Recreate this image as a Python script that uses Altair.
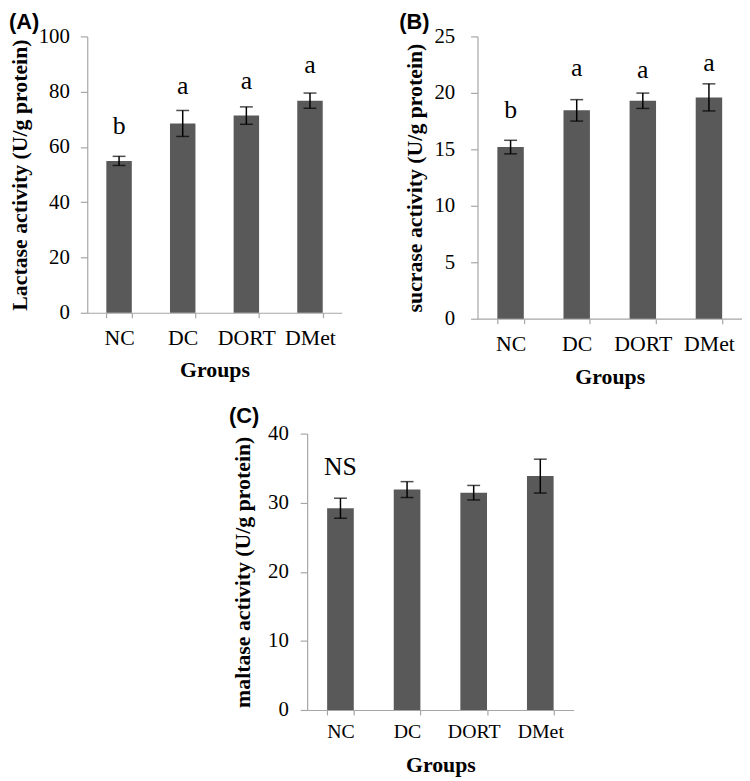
import altair as alt
import pandas as pd

groups = ["NC", "DC", "DORT", "DMet"]

# Panel A: lactase
lactase_mean = [54.95, 68.5, 71.35, 76.75]
lactase_sem = [1.65, 4.7, 3.15, 2.75]
lactase_letters = ["b", "a", "a", "a"]
lactase_letter_y = [64.7, 79.2, 80.8, 86.8]

# Panel B: sucrase
sucrase_mean = [15.2, 18.45, 19.3, 19.6]
sucrase_sem = [0.6, 0.95, 0.68, 1.2]
sucrase_letters = ["b", "a", "a", "a"]
sucrase_letter_y = [17.8, 21.5, 21.3, 21.9]

# Panel C: maltase
maltase_mean = [29.2, 31.9, 31.45, 33.85]
maltase_sem = [1.45, 1.15, 1.05, 2.45]
maltase_letters = ["NS", "", "", ""]
maltase_letter_y = [34.0, 0, 0, 0]

panel_labels = ["(A)", "(B)", "(C)"]
y_titles = ["Lactase activity (U/g protein)", "sucrase activity (U/g protein)",
            "maltase activity (U/g protein)"]
x_title = "Groups"

SERIF = "Liberation Serif"
SANS = "Liberation Sans"
AXIS_GREY = "#a6a6a6"


def panel(means, sems, letters, letter_y, plabel, ytitle, ydomain, ystep,
          width, height, ylab_pad, ytitle_pad, xlab_pad, xtitle_pad, xlab_size):
    df = pd.DataFrame({
        "group": groups,
        "mean": means,
        "lo": [m - s for m, s in zip(means, sems)],
        "hi": [m + s for m, s in zip(means, sems)],
        "letter": letters,
        "ly": letter_y,
    })
    yvals = list(range(ydomain[0], ydomain[1] + 1, ystep))
    xsc = alt.Scale(paddingInner=0.6, paddingOuter=0.3)
    ysc = alt.Scale(domain=ydomain, nice=False)
    xax = alt.Axis(title=x_title, labelAngle=0, tickBand="extent",
                   tickSize=5, labelPadding=xlab_pad, titlePadding=xtitle_pad,
                   labelFontSize=xlab_size, labelOverlap=False)
    yax = alt.Axis(title=ytitle, values=yvals, tickSize=7, grid=False,
                   labelPadding=ylab_pad, titlePadding=ytitle_pad)
    X = alt.X("group:N", sort=groups, scale=xsc, axis=xax)

    def Y(f):
        return alt.Y(f, scale=ysc, axis=yax)

    base = alt.Chart(df)
    bars = base.mark_bar(color="#595959").encode(x=X, y=Y("mean:Q"))
    rules = base.mark_rule(color="black", strokeWidth=1.5).encode(
        x=X, y=Y("lo:Q"), y2="hi:Q")
    cap_lo = base.mark_tick(color="black", size=13, thickness=1.5).encode(
        x=X, y=Y("lo:Q"))
    cap_hi = base.mark_tick(color="black", size=13, thickness=1.5).encode(
        x=X, y=Y("hi:Q"))
    txt = base.transform_filter(alt.datum.letter != "").mark_text(
        font=SERIF, fontSize=26, baseline="alphabetic", color="black").encode(
        x=X, y=Y("ly:Q"), text="letter:N")
    lab = alt.Chart(pd.DataFrame({"p": [plabel]})).mark_text(
        font=SANS, fontSize=22, fontWeight="bold", align="left", baseline="top",
        color="black").encode(x=alt.value(-79), y=alt.value(-24 if plabel != "(C)" else -28),
                              text="p:N")
    return alt.layer(bars, rules, cap_lo, cap_hi, txt, lab).properties(
        width=width, height=height)


pA = panel(lactase_mean, lactase_sem, lactase_letters, lactase_letter_y, panel_labels[0],
           y_titles[0], [0, 100], 20, 257, 279, 11, 7, 10, 11, 22)
pB = panel(sucrase_mean, sucrase_sem, sucrase_letters, sucrase_letter_y, panel_labels[1],
           y_titles[1], [0, 25], 5, 267, 285, 16, 8, 10, 12, 22)
pC = panel(maltase_mean, maltase_sem, maltase_letters, maltase_letter_y, panel_labels[2],
           y_titles[2], [0, 40], 10, 269, 279, 12, 13, 7, 13, 20)

spacer = alt.Chart(pd.DataFrame({"s": [0]})).mark_point(opacity=0).encode(
    x=alt.value(0), y=alt.value(0)).properties(width=1, height=1)

row1 = alt.hconcat(pA, pB, spacing=137, bounds="flush")
row2 = alt.hconcat(spacer, pC, spacing=221, bounds="flush")
# nested rows report zero height under flush bounds, so spacing = row1 height + gap
chart = alt.vconcat(row1, row2, spacing=401, bounds="flush").properties(
    padding=0
).configure_view(stroke=None).configure_axis(
    domainColor=AXIS_GREY, tickColor=AXIS_GREY, domainWidth=1.2, tickWidth=1.2,
    labelFont=SERIF, labelFontSize=21, labelColor="black",
    titleFont=SERIF, titleFontSize=22, titleFontWeight="bold", titleColor="black",
)

chart.save("out.html", embed_options={"renderer": "svg", "actions": False})
